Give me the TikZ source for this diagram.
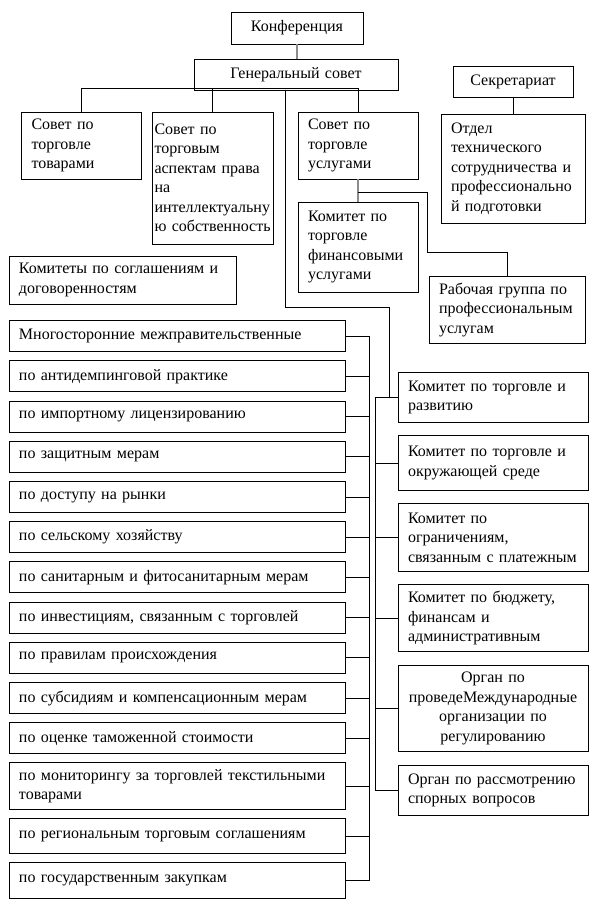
\documentclass[tikz,border=0pt]{standalone}
\usepackage{fontspec}
\setmainfont{Liberation Serif}
\usepackage{tikz}
\usetikzlibrary{positioning}
\newcommand{\orgfont}{\fontsize{16}{19.5}\selectfont}
\tikzset{
  orgbox/.style={rectangle, draw=black, line width=1pt, outer sep=0pt,
                 inner xsep=10pt, inner ysep=2pt, align=left,
                 anchor=north west, font=\orgfont},
  listbox/.style={orgbox, text width=316pt, minimum height=31pt},
  cmtbox/.style={orgbox, text width=170pt},
  myline/.style={draw=black, line width=1pt},
  greyline/.style={draw=black!45, line width=1.5pt},
}

\begin{document}
\begin{tikzpicture}[x=1pt, y=-1pt]
  \useasboundingbox (0,0) rectangle (613,913);

  \node[orgbox, text width=112pt, align=center, minimum height=32pt] (conf) at (231,12) {Конференция};
  \node[orgbox, text width=184pt, align=center, minimum height=31pt] (gen)  at (194,59) {Генеральный совет};
  \node[orgbox, text width=100pt, align=center, minimum height=31pt] (secr) at (453,66) {Секретариат};

  \node[orgbox, text width=99.5pt, minimum height=67pt] (goods) at (21.5,112) {Совет по\\торговле\\товарами};
  \node[orgbox, inner xsep=2.5pt, text width=116pt, minimum height=132pt] (trips) at (152,112)
       {Совет по\\торговым\\аспектам права\\на\\\mbox{интеллектуальну}\\\mbox{ю собственность}};
  \node[orgbox, text width=100pt, minimum height=67pt] (serv) at (298,112) {Совет по\\торговле\\услугами};
  \node[orgbox, text width=124pt, minimum height=109pt] (dept) at (441,114)
       {Отдел\\технического\\сотрудничества и\\профессионально\\й подготовки};
  \node[orgbox, text width=100pt, minimum height=90pt] (finserv) at (298,202)
       {Комитет по\\торговле\\финансовыми\\услугами};
  \node[orgbox, text width=136pt, minimum height=67pt] (wgroup) at (429,276)
       {Рабочая группа по\\профессиональным\\услугам};
  \node[orgbox, text width=207pt, minimum height=48pt] (agreem) at (9,256)
       {Комитеты по соглашениям и\\договоренностям};

  % agreements committees
  \node[listbox, below=16.7pt of agreem.south west, anchor=north west] (l1) {Многосторонние межправительственные};
  \node[listbox, below=9.2pt of l1]  (l2)  {по антидемпинговой практике};
  \node[listbox, below=9.2pt of l2]  (l3)  {по импортному лицензированию};
  \node[listbox, below=9.2pt of l3]  (l4)  {по защитным мерам};
  \node[listbox, below=9.2pt of l4]  (l5)  {по доступу на рынки};
  \node[listbox, below=9.2pt of l5]  (l6)  {по сельскому хозяйству};
  \node[listbox, below=9.2pt of l6]  (l7)  {по санитарным и фитосанитарным мерам};
  \node[listbox, below=9.2pt of l7]  (l8)  {по инвестициям, связанным с торговлей};
  \node[listbox, below=9.2pt of l8]  (l9)  {по правилам происхождения};
  \node[listbox, below=9.2pt of l9]  (l10) {по субсидиям и компенсационным мерам};
  \node[listbox, below=9.2pt of l10] (l11) {по оценке таможенной стоимости};
  \node[listbox, below=9.2pt of l11, minimum height=46.6pt] (l12) {по мониторингу за торговлей текстильными\\товарами};
  \node[listbox, below=9.4pt of l12, minimum height=34.6pt] (l13) {по региональным торговым соглашениям};
  \node[listbox, below=9.4pt of l13, minimum height=35.3pt] (l14) {по государственным закупкам};

  % committees of the general council
  \node[cmtbox, minimum height=50pt] (r1) at (398,372.3) {Комитет по торговле и\\развитию};
  \node[cmtbox, below=13.3pt of r1, minimum height=55pt]   (r2) {Комитет по торговле и\\окружающей среде};
  \node[cmtbox, below=13.3pt of r2, minimum height=67.7pt] (r3) {Комитет по\\ограничениям,\\связанным с платежным};
  \node[cmtbox, below=13.3pt of r3, minimum height=67pt]   (r4) {Комитет по бюджету,\\финансам и\\административным};
  \node[cmtbox, below=13.3pt of r4, minimum height=86.6pt, align=center] (r5)
       {Орган по\\проведеМеждународные\\организации по\\регулированию};
  \node[cmtbox, below=13.3pt of r5, minimum height=50.7pt] (r6) {Орган по рассмотрению\\спорных вопросов};

  \coordinate (gbus)  at ([yshift=1.5pt]gen.south);
  \coordinate (rkink) at (389,307.5);
  \coordinate (rbus)  at (375,0);
  \coordinate (lbus)  at (369,0);
  \coordinate (wkink) at (427,252);

  \draw[greyline] (conf.south) -- (conf.south |- gen.north);
  \draw[myline] (goods.north) |- (gbus -| serv.north) -- (serv.north);
  \draw[myline] (trips.north) -- (trips.north |- gbus);
  \draw[myline] (secr.south) -- (dept.north);

  \draw[greyline] (serv.south) -- (finserv.north);
  \draw[myline] ([yshift=-13pt]serv.south) -| (wkink) -| (wgroup.north);

  \draw[myline] ([xshift=-10.5pt]gen.south) |- (rkink) |- (r1.west);
  \draw[myline] (r1.west) -- (r1.west -| rbus) |- (r6.west);
  \draw[myline] (r2.west) -- (r2.west -| rbus);
  \draw[myline] (r3.west) -- (r3.west -| rbus);
  \draw[myline] (r4.west) -- (r4.west -| rbus);
  \draw[myline] (r5.west) -- (r5.west -| rbus);

  \draw[myline] (l1.east) -| (lbus |- l14.east) -- (l14.east);
  \draw[myline] (l2.east)  -- (l2.east -| lbus);
  \draw[myline] (l3.east)  -- (l3.east -| lbus);
  \draw[myline] (l4.east)  -- (l4.east -| lbus);
  \draw[myline] (l5.east)  -- (l5.east -| lbus);
  \draw[myline] (l6.east)  -- (l6.east -| lbus);
  \draw[myline] (l7.east)  -- (l7.east -| lbus);
  \draw[myline] (l8.east)  -- (l8.east -| lbus);
  \draw[myline] (l9.east)  -- (l9.east -| lbus);
  \draw[myline] (l10.east) -- (l10.east -| lbus);
  \draw[myline] (l11.east) -- (l11.east -| lbus);
  \draw[myline] (l12.east) -- (l12.east -| lbus);
  \draw[myline] (l13.east) -- (l13.east -| lbus);

\end{tikzpicture}
\end{document}
